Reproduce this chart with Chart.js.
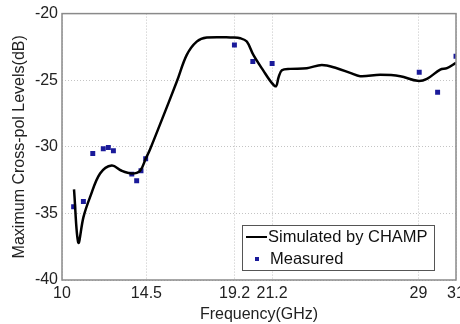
<!DOCTYPE html>
<html>
<head>
<meta charset="utf-8">
<script src="https://cdn.jsdelivr.net/npm/chart.js@4.4.0/dist/chart.umd.min.js"></script>
<style>
  html, body { margin: 0; padding: 0; background: #fff; overflow: hidden; }
  #wrap { width: 460px; height: 324px; position: relative; }
</style>
</head>
<body>
<div id="wrap"><canvas id="xpol"></canvas></div>
<script>
// simulated curve (CHAMP)
var simFreq = [10.64, 10.87, 11.14, 11.49, 12.03, 12.65, 13.18, 13.72, 14.16, 14.46, 14.69, 15.23,
  16.12, 16.65, 17.18, 17.72, 19.14, 19.5, 19.85, 20.2, 20.74, 21.18, 21.41, 21.54, 21.72, 22.16,
  23.05, 23.85, 24.65, 25.36, 25.89, 26.96, 28.03, 28.95, 29.45, 30.16, 30.52, 31];
var simLevel = [-33.2, -37.2, -35.3, -33.8, -32.0, -31.4, -31.8, -32.0, -31.8, -30.9, -30.2, -28.3,
  -25.1, -23.1, -22.1, -21.8, -21.8, -21.85, -22.1, -23.1, -24.3, -25.2, -25.45, -24.8, -24.25, -24.15,
  -24.1, -23.85, -24.1, -24.45, -24.7, -24.6, -24.7, -25.05, -24.9, -24.2, -24.1, -23.7];

// measured points
var measFreq = [10.62, 11.14, 11.64, 12.2, 12.47, 12.74, 13.72, 13.98, 14.21, 14.46, 19.19, 20.17, 21.2, 29.04, 30.02, 31];
var measLevel = [-34.5, -34.1, -30.5, -30.15, -30.05, -30.3, -32.05, -32.55, -31.8, -30.9, -22.35, -23.6, -23.75, -24.4, -25.9, -23.2];

var xTicks = [10, 14.5, 19.2, 21.2, 29, 31];
var yTicks = [-40, -35, -30, -25, -20];

var font = "'Liberation Sans', Arial, sans-serif";

function pairs(xs, ys) {
  return xs.map(function (x, i) { return { x: x, y: ys[i] }; });
}

// axes box + legend drawn inside the plot, matlab style
var boxPlugin = {
  id: 'box',
  afterDatasetsDraw: function (chart) {
    var ctx = chart.ctx, a = chart.chartArea;
    ctx.save();
    ctx.strokeStyle = '#8a8a8a';
    ctx.lineWidth = 1.5;
    ctx.strokeRect(a.left, a.top, a.right - a.left, a.bottom - a.top);

    // legend
    var lx = 242, ly = 225, lw = 192, lh = 45;
    ctx.fillStyle = '#fff';
    ctx.fillRect(lx, ly, lw, lh);
    ctx.strokeStyle = '#555';
    ctx.lineWidth = 1;
    ctx.strokeRect(lx + 0.5, ly + 0.5, lw, lh);
    ctx.strokeStyle = '#000';
    ctx.lineWidth = 2;
    ctx.beginPath();
    ctx.moveTo(246, 237);
    ctx.lineTo(267, 237);
    ctx.stroke();
    ctx.fillStyle = '#1a1a9a';
    ctx.fillRect(255, 257, 4, 4);
    ctx.fillStyle = '#111';
    ctx.font = '16.5px ' + font;
    ctx.textBaseline = 'middle';
    ctx.fillText('Simulated by CHAMP', 268, 237);
    ctx.fillText('Measured', 270, 259);
    ctx.restore();
  }
};

new Chart(document.getElementById('xpol'), {
  type: 'scatter',
  data: {
    datasets: [{
      label: 'Simulated by CHAMP',
      data: pairs(simFreq, simLevel),
      showLine: true,
      borderColor: '#000',
      borderWidth: 2.5,
      pointRadius: 0,
      tension: 0.35
    }, {
      label: 'Measured',
      data: pairs(measFreq, measLevel),
      showLine: false,
      pointStyle: 'rect',
      pointRadius: 3.5,
      backgroundColor: '#1a1a9a',
      borderColor: '#1a1a9a',
      borderWidth: 0
    }]
  },
  options: {
    responsive: true,
    maintainAspectRatio: false,
    animation: false,
    layout: { padding: { top: 12, left: 10, right: 3, bottom: 0 } },
    plugins: {
      legend: { display: false },
      tooltip: { enabled: false }
    },
    scales: {
      x: {
        type: 'linear',
        min: 10,
        max: 31,
        afterBuildTicks: function (scale) {
          scale.ticks = xTicks.map(function (v) { return { value: v }; });
        },
        afterFit: function (scale) {
          scale.height = 44;
          scale.paddingRight = 0;
          scale.paddingLeft = 0;
        },
        ticks: {
          autoSkip: false,
          maxRotation: 0,
          padding: 4,
          color: '#222',
          font: { family: font, size: 16 },
          callback: function (v) { return String(v); }
        },
        grid: { color: '#c4c4c4', drawTicks: false },
        border: { display: false, dash: [1, 2] },
        title: {
          display: true,
          text: 'Frequency(GHz)',
          color: '#222',
          font: { family: font, size: 16 },
          padding: { top: 0, bottom: 0 }
        }
      },
      y: {
        min: -40,
        max: -20,
        afterBuildTicks: function (scale) {
          scale.ticks = yTicks.map(function (v) { return { value: v }; });
        },
        afterFit: function (scale) {
          scale.width = 52;
        },
        ticks: {
          padding: 4,
          color: '#222',
          font: { family: font, size: 16 }
        },
        grid: { color: '#c4c4c4', drawTicks: false },
        border: { display: false, dash: [1, 2] },
        title: {
          display: true,
          text: 'Maximum Cross-pol Levels(dB)',
          color: '#222',
          font: { family: font, size: 16 },
          padding: { top: 0, bottom: 0 }
        }
      }
    }
  },
  plugins: [boxPlugin]
});
</script>
</body>
</html>
